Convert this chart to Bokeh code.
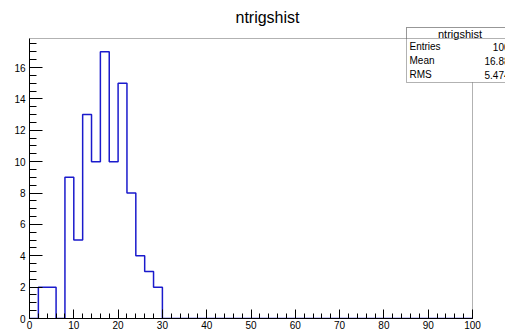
import numpy as np
from bokeh.plotting import figure
from bokeh.models import (Range1d, SingleIntervalTicker, BoxAnnotation, Label, ColumnDataSource)
from bokeh.embed import file_html
from bokeh.resources import INLINE

# ---- data ----
bin_low = 0
bin_high = 100
n_bins = 50
counts = [0, 2, 2, 0, 9, 5, 13, 10, 17, 10, 15, 8, 4, 3, 2] + [0] * 35
title_text = "ntrigshist"
stat_names = ["Entries", "Mean", "RMS"]
stat_values = ["100", "16.88", "5.474"]
x_ticks_interval = 10
y_ticks_interval = 2

FONT = "Liberation Sans"
BLUE = "#1a1acc"

edges = np.linspace(bin_low, bin_high, n_bins + 1)
cnt = np.array(counts, dtype=float)
xs = [edges[0]]
ys = [0.0]
for i in range(n_bins):
    xs += [edges[i], edges[i + 1]]
    ys += [cnt[i], cnt[i]]
xs.append(edges[-1])
ys.append(0.0)
src = ColumnDataSource(dict(x=xs, y=ys))

ymax = cnt.max() * 1.05

# pixel layout: histogram frame spans x 29..472, y 38..318; drawing area extends to the canvas edge
W, H = 505, 332
FL, FR, FT, FB = 29, 472, 38, 318
AREA_T = 26
x_end = bin_low + (bin_high - bin_low) * (W - FL) / (FR - FL)
y_end = ymax * (FB - AREA_T) / (FB - FT)

p = figure(width=W, height=H, output_backend="svg", toolbar_location=None,
           x_range=Range1d(bin_low, x_end), y_range=Range1d(0, y_end),
           min_border_left=FL, min_border_right=0, min_border_top=AREA_T, min_border_bottom=H - FB)
p.background_fill_color = "white"
p.border_fill_color = "white"
p.grid.visible = False
p.outline_line_color = None

p.title.text = title_text
p.title.align = "center"
p.title.offset = -16
p.title.text_font = FONT
p.title.text_font_size = "16px"
p.title.text_font_style = "normal"
p.title.text_color = "black"
p.title.standoff = 2

p.line("x", "y", source=src, line_color=BLUE, line_width=1.5)

# frame (top and right edges; left/bottom are the axis lines)
p.add_layout(BoxAnnotation(left=bin_low, right=bin_high, bottom=0, top=ymax,
                           fill_color=None, fill_alpha=0, line_color="black", line_width=1))

# axes
p.xaxis.ticker = SingleIntervalTicker(interval=x_ticks_interval, num_minor_ticks=5)
p.yaxis.ticker = SingleIntervalTicker(interval=y_ticks_interval, num_minor_ticks=4)
p.xaxis.bounds = (bin_low, bin_high)
p.yaxis.bounds = (0, ymax)
for ax in (p.xaxis[0], p.yaxis[0]):
    ax.axis_line_color = "black"
    ax.major_tick_line_color = "black"
    ax.minor_tick_line_color = "black"
    ax.major_tick_out = 0
    ax.minor_tick_out = 0
    ax.major_label_text_font = FONT
    ax.major_label_text_font_size = "10px"
    ax.major_label_text_color = "black"
p.yaxis.major_tick_in = 13
p.yaxis.minor_tick_in = 7
p.yaxis.major_label_standoff = 4
p.xaxis.major_tick_in = 9
p.xaxis.minor_tick_in = 5
p.xaxis.major_label_standoff = 2

# stats box (screen units relative to drawing-area bottom-left)
bl, br, bt, bb, hb = 406, 513, 27, 82, 38
box = BoxAnnotation(left=bl - FL, right=br - FL, top=FB - bt, bottom=FB - bb,
                    left_units="screen", right_units="screen", top_units="screen", bottom_units="screen",
                    fill_color="white", fill_alpha=1.0, line_color="black", line_width=1, level="overlay")
hdr = BoxAnnotation(left=bl - FL, right=br - FL, top=FB - bt, bottom=FB - hb,
                    left_units="screen", right_units="screen", top_units="screen", bottom_units="screen",
                    fill_color="white", fill_alpha=1.0, line_color="black", line_width=1, level="overlay")
p.add_layout(box)
p.add_layout(hdr)
p.add_layout(Label(x=(bl + br) / 2 - FL, y=FB - 33, x_units="screen", y_units="screen",
                   text=title_text, text_align="center", text_baseline="middle",
                   text_font=FONT, text_font_size="11px", text_color="black", level="overlay"))
row_y = [46, 60, 74]
for name, val, ry in zip(stat_names, stat_values, row_y):
    p.add_layout(Label(x=409 - FL, y=FB - ry, x_units="screen", y_units="screen",
                       text=name, text_align="left", text_baseline="middle",
                       text_font=FONT, text_font_size="10px", text_color="black", level="overlay"))
    p.add_layout(Label(x=509 - FL, y=FB - ry, x_units="screen", y_units="screen",
                       text=val, text_align="right", text_baseline="middle",
                       text_font=FONT, text_font_size="10px", text_color="black", level="overlay"))

open("out.html", "w").write(file_html(p, INLINE))
